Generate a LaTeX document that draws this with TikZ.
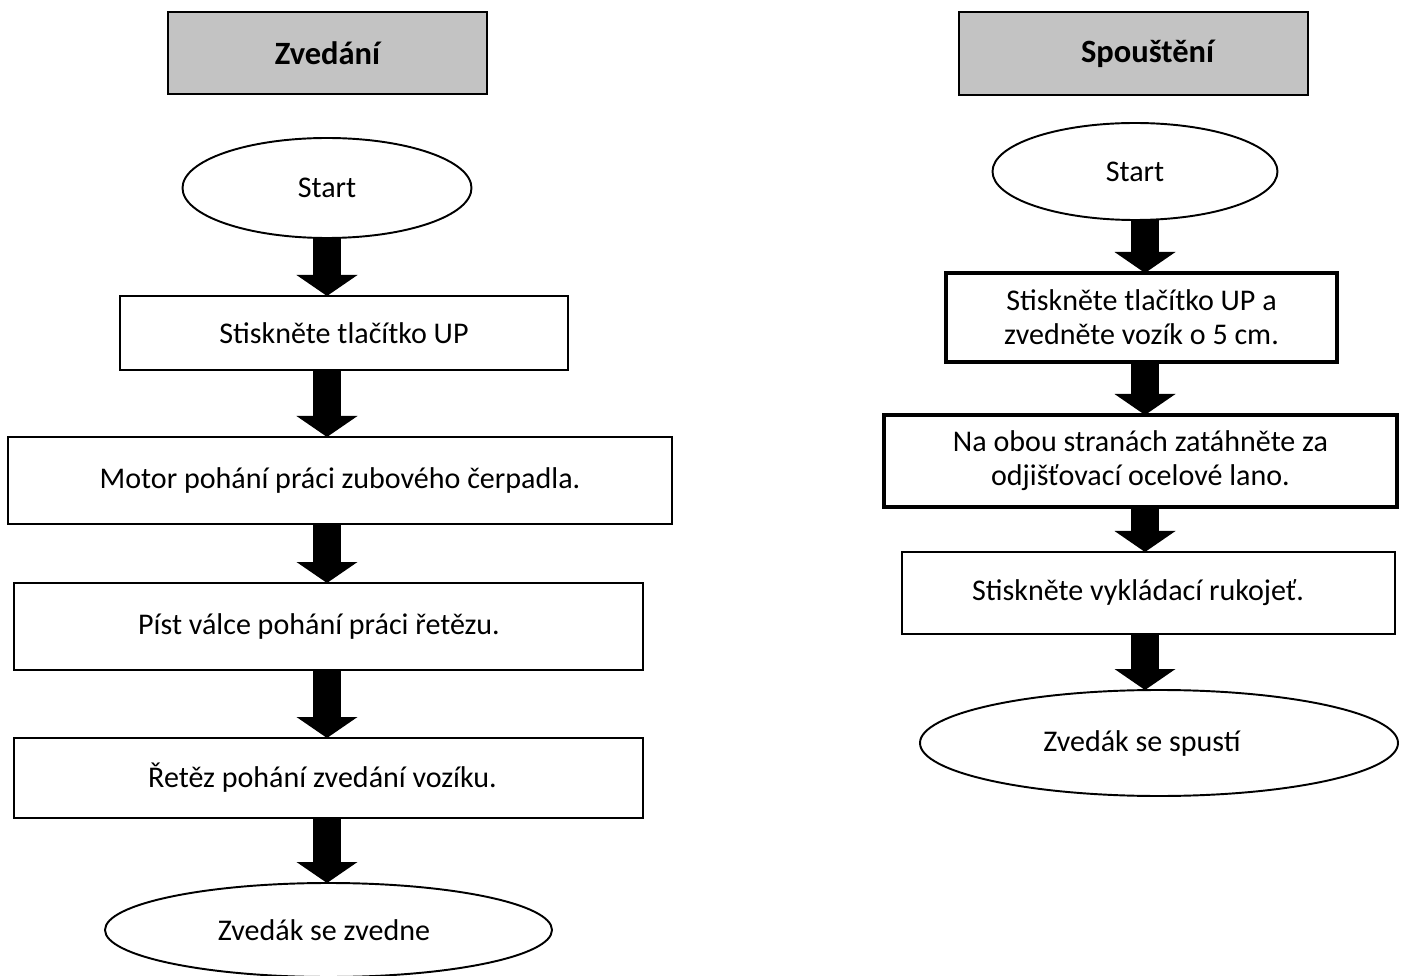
\documentclass[tikz,border=0pt]{standalone}
\usepackage{fontspec}
\setmainfont{Carlito}
\usetikzlibrary{shapes.geometric,arrows.meta}
\definecolor{hlavagray}{RGB}{195,195,195}

\begin{document}
\begin{tikzpicture}[
	every node/.style={font=\fontsize{17.1}{19.5}\selectfont, inner sep=0pt, outer sep=0pt},
	hlava/.style={draw, line width=1.6pt, fill=hlavagray, font=\fontsize{18.5}{22}\selectfont\bfseries},
	krok/.style={draw, line width=1.1pt, align=center},
	tlustykrok/.style={draw, line width=2.2pt, align=center},
	ovalkrok/.style={draw, ellipse, line width=1.1pt},
	sipka/.style={line width=0.57cm, -{Triangle[width=1.2cm, length=0.42cm]}}
]
	\useasboundingbox (0,0) rectangle (28.28,-19.52);
	
	% zvedani
	\coordinate (lx) at (6.54,0);
	\node[hlava, minimum width=6.38cm, minimum height=1.64cm] (zvedani) at (6.55,-1.06) {Zvedání};
	\node[ovalkrok, minimum width=5.78cm, minimum height=2cm] (start1) at (6.54,-3.76) {Start};
	\node[krok, minimum width=8.96cm, minimum height=1.48cm] (up1) at (6.88,-6.66) {Stiskněte tlačítko UP};
	\node[krok, minimum width=13.28cm, minimum height=1.74cm] (motor) at (6.8,-9.61) {Motor pohání práci zubového čerpadla.};
	\node[krok, minimum width=12.58cm, minimum height=1.74cm] (pist) at (6.57,-12.53) {\hspace*{-0.38cm}Píst válce pohání práci řetězu.};
	\node[krok, minimum width=12.58cm, minimum height=1.6cm] (retez) at (6.57,-15.56) {\hspace*{-0.24cm}Řetěz pohání zvedání vozíku.};
	\node[ovalkrok, minimum width=8.94cm, minimum height=1.88cm] (konec1) at (6.57,-18.6) {\hspace*{-0.18cm}Zvedák se zvedne};
	
	\foreach \a/\b in {start1/up1, up1/motor, motor/pist, pist/retez, retez/konec1}
		\draw[sipka] (\a.south -| lx) -- (\b.north -| lx);
	
	% spousteni
	\coordinate (px) at (22.9,0);
	\node[hlava, minimum width=6.98cm, minimum height=1.66cm] (spousteni) at (22.67,-1.07) {\hspace*{0.56cm}Spouštění};
	\node[ovalkrok, minimum width=5.7cm, minimum height=1.94cm] (start2) at (22.7,-3.43) {Start};
	\node[tlustykrok, minimum width=7.82cm, minimum height=1.78cm] (up2) at (22.83,-6.35) {Stiskněte tlačítko UP a\\zvedněte vozík o 5 cm.};
	\node[tlustykrok, minimum width=10.26cm, minimum height=1.84cm] (lano) at (22.81,-9.22) {Na obou stranách zatáhněte za\\odjišťovací ocelové lano.};
	\node[krok, minimum width=9.86cm, minimum height=1.64cm] (rukojet) at (22.97,-11.86) {\hspace*{-0.42cm}Stiskněte vykládací rukojeť.};
	\node[ovalkrok, minimum width=9.56cm, minimum height=2.12cm] (konec2) at (23.18,-14.86) {\hspace*{-0.68cm}Zvedák se spustí};
	
	\foreach \a/\b in {start2/up2, up2/lano, lano/rukojet, rukojet/konec2}
		\draw[sipka] (\a.south -| px) -- (\b.north -| px);
\end{tikzpicture}
\end{document}
